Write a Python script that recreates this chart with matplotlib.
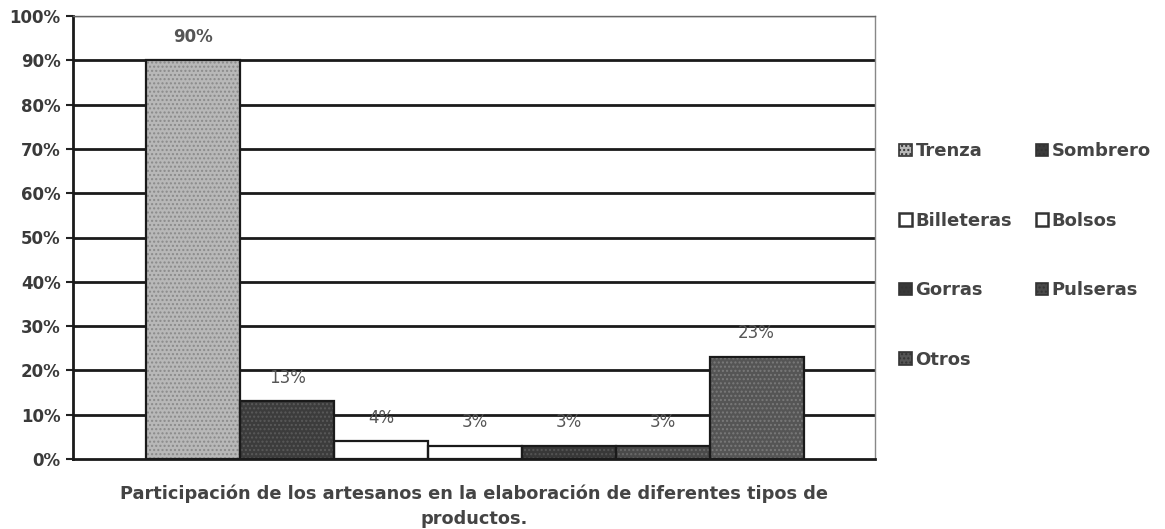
import matplotlib
matplotlib.use("Agg")
import matplotlib.pyplot as plt
from matplotlib.patches import Patch
from matplotlib.ticker import FuncFormatter

categories = ["Trenza", "Sombrero", "Billeteras", "Bolsos", "Gorras", "Pulseras", "Otros"]
values = [90, 13, 4, 3, 3, 3, 23]
value_labels = ["90%", "13%", "4%", "3%", "3%", "3%", "23%"]
y_ticks = [0, 10, 20, 30, 40, 50, 60, 70, 80, 90, 100]
title = "Participación de los artesanos en la elaboración de diferentes tipos de\nproductos."

face = ["#b8b8b8", "#3c3c3c", "#ffffff", "#ffffff", "#383838", "#4a4a4a", "#555555"]
hatch_col = ["#8a8a8a", "#5a5a5a", None, None, "#555555", "#6a6a6a", "#7a7a7a"]

plt.rcParams['font.family'] = ['DejaVu Sans']

fig = plt.figure(figsize=(11.65, 5.29), dpi=100)
ax = fig.add_axes([73/1165, 1-459/529, (875-73)/1165, (459-16)/529])

for i, (v, fc, hc) in enumerate(zip(values, face, hatch_col)):
    if hc is not None:
        ax.bar(i, v, width=1.0, color=fc, edgecolor=hc, hatch="....", linewidth=0, zorder=3)
    else:
        ax.bar(i, v, width=1.0, color=fc, linewidth=0, zorder=3)
    ax.bar(i, v, width=1.0, fill=False, edgecolor="#1a1a1a", linewidth=1.6, zorder=4)
    ax.text(i, v + 3.3, value_labels[i], ha="center", va="bottom",
            fontsize=12, fontweight="bold" if i == 0 else "normal", color="#555555", zorder=5)

ax.set_xlim(-0.5 - 0.78, 6.5 + 0.76)
ax.set_ylim(0, 100)
ax.set_yticks(y_ticks)
ax.yaxis.set_major_formatter(FuncFormatter(lambda v, p: f"{int(v)}%"))
ax.tick_params(axis="y", length=5, width=1.5, colors="#222222", labelsize=12, pad=4)
for lbl in ax.get_yticklabels():
    lbl.set_fontweight("bold")
    lbl.set_color("#3a3a3a")
ax.set_xticks([])

for yv in y_ticks[1:-1]:
    ax.axhline(yv, color="#1a1a1a", linewidth=2.0, zorder=1)
ax.axhline(100, color="#555555", linewidth=1.0, zorder=1)

ax.spines["left"].set_linewidth(2.0)
ax.spines["left"].set_color("#1a1a1a")
ax.spines["bottom"].set_linewidth(2.0)
ax.spines["bottom"].set_color("#1a1a1a")
ax.spines["top"].set_linewidth(1.0)
ax.spines["top"].set_color("#666666")
ax.spines["right"].set_linewidth(1.0)
ax.spines["right"].set_color("#888888")

handles = []
for c, fc, hc in zip(categories, face, hatch_col):
    if hc is not None:
        handles.append(Patch(facecolor=fc, edgecolor="#333333", hatch="....", linewidth=1.2, label=c))
    else:
        handles.append(Patch(facecolor=fc, edgecolor="#333333", linewidth=1.8, label=c))

order = [0, 2, 4, 6, 1, 3, 5]
leg = fig.legend([handles[i] for i in order], [categories[i] for i in order],
                 ncol=2, loc="upper left", bbox_to_anchor=(892/1165, 1-135/529),
                 frameon=False, fontsize=13, labelspacing=2.85, handlelength=0.7,
                 handleheight=0.7, handletextpad=0.2, columnspacing=1.3,
                 borderaxespad=0)
for t in leg.get_texts():
    t.set_color("#444444")
    t.set_fontweight("bold")

fig.text(474/1165, 1-506/529, title, ha="center", va="center", fontsize=12.8,
         fontweight="bold", color="#444444", linespacing=1.5)

fig.savefig("out.png", dpi=100)
